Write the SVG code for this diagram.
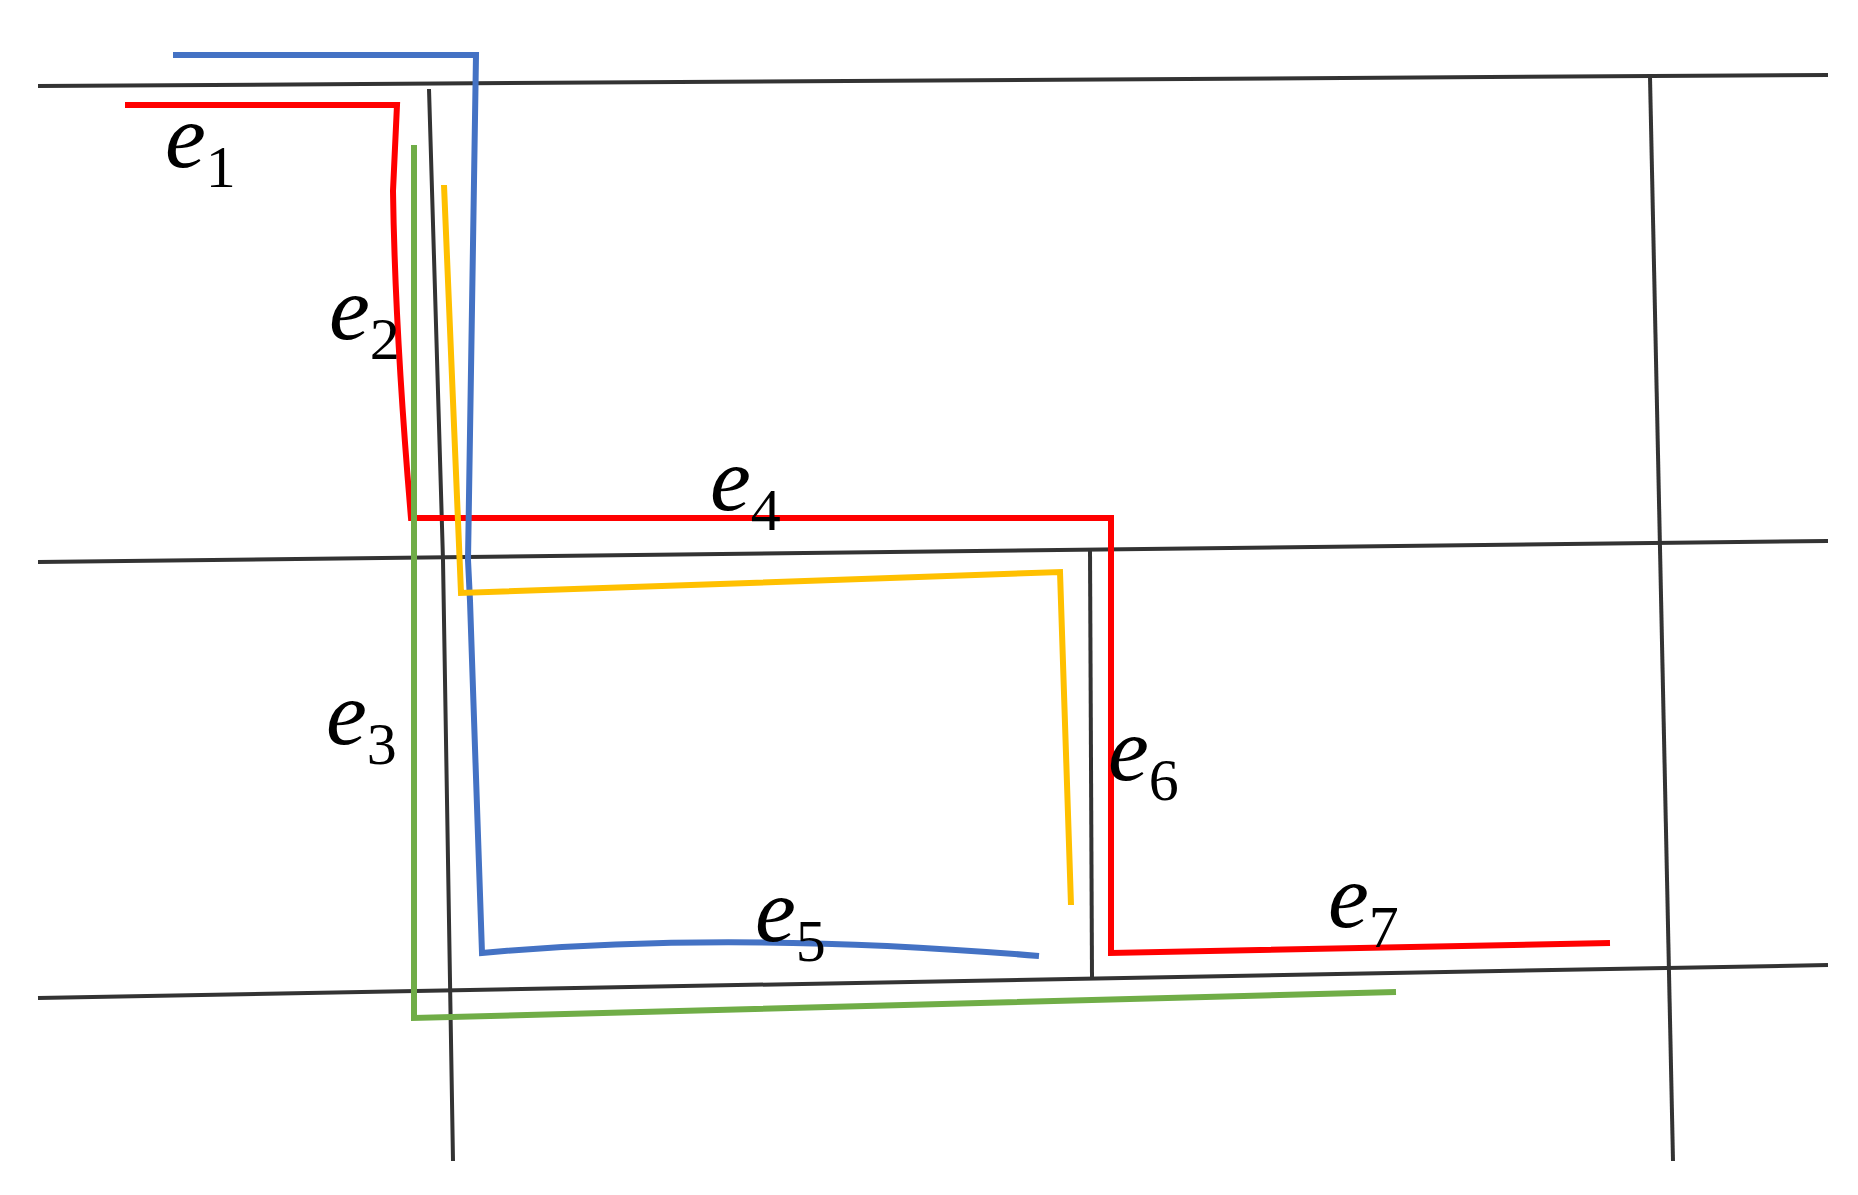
<svg xmlns="http://www.w3.org/2000/svg" width="1858" height="1195" viewBox="0 0 1858 1195">
<style>
.g{stroke:#333;stroke-width:4;fill:none}
.c{stroke-width:6;fill:none;stroke-linejoin:miter}
.l{font-family:"Liberation Serif",serif;font-size:92px;fill:#000}
.l tspan.e{font-style:italic}
.l tspan.s{font-size:60px}
</style>
<rect width="1858" height="1195" fill="#fff"/>
<g id="grid">
<path class="g" d="M38 86 L1828 75"/>
<path class="g" d="M38 562 L1828 541"/>
<path class="g" d="M38 998 L1828 965"/>
<path class="g" d="M429 89 L443 560 L453 1161"/>
<path class="g" d="M1650 77 L1673 1161"/>
<path class="g" d="M1090 550 L1092 977"/>
</g>
<g id="connectors">
<path class="c" stroke="#ff0000" d="M125 105 L397 105 L393 191 Q395 330 411 518 L1111 518 L1111 953 L1610 943"/>
<path class="c" stroke="#4472c4" d="M173 55 L476 55 L468 560 L470 601 L482 953 Q730 930 1039 956"/>
<path class="c" stroke="#70ad47" d="M414 145 L414 1018 L1396 992"/>
<path class="c" stroke="#ffc000" d="M444 185 L461 593 L1060 572 L1071 905"/>
</g>
<g id="labels">
<text class="l" x="165" y="167"><tspan class="e">e</tspan><tspan class="s" dy="20">1</tspan></text>
<text class="l" x="329" y="339"><tspan class="e">e</tspan><tspan class="s" dy="20">2</tspan></text>
<text class="l" x="326" y="744"><tspan class="e">e</tspan><tspan class="s" dy="20">3</tspan></text>
<text class="l" x="710" y="510"><tspan class="e">e</tspan><tspan class="s" dy="20">4</tspan></text>
<text class="l" x="755" y="941"><tspan class="e">e</tspan><tspan class="s" dy="20">5</tspan></text>
<text class="l" x="1108" y="780"><tspan class="e">e</tspan><tspan class="s" dy="20">6</tspan></text>
<text class="l" x="1328" y="927"><tspan class="e">e</tspan><tspan class="s" dy="20">7</tspan></text>
</g>
</svg>
